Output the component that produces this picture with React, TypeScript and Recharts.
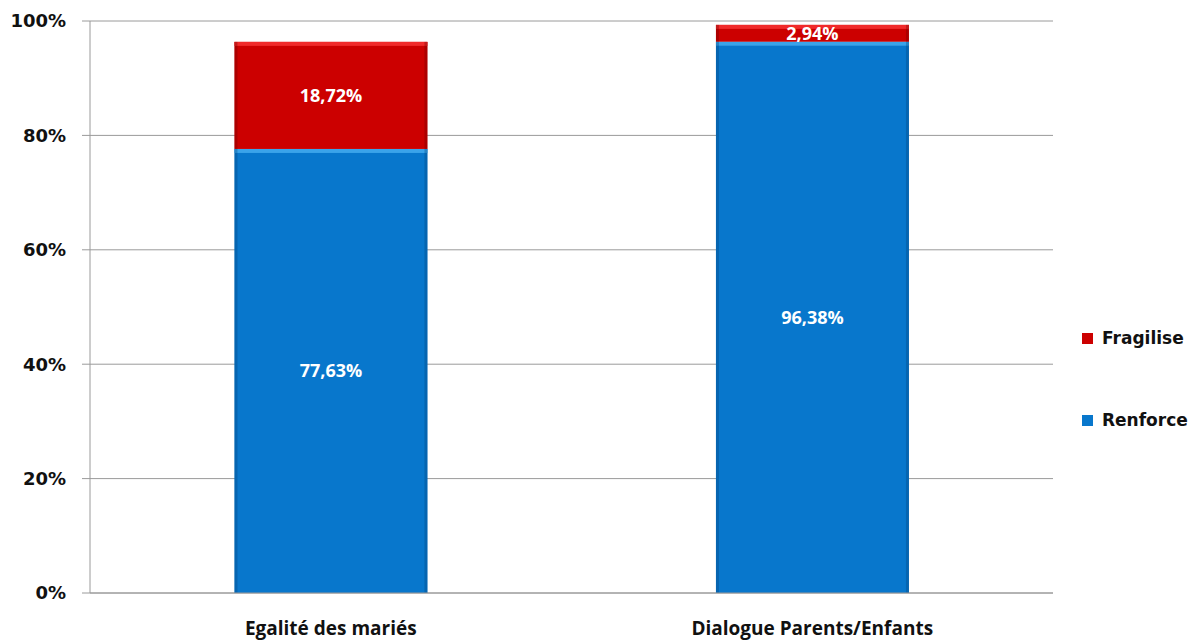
import { BarChart, Bar, XAxis, YAxis, CartesianGrid, Legend, LabelList } from 'recharts'

const categories = ['Egalité des mariés', 'Dialogue Parents/Enfants']
const renforce = [77.63, 96.38]
const fragilise = [18.72, 2.94]
const yTicks = [0, 20, 40, 60, 80, 100]

const data = categories.map((name, i) => ({ name, renforce: renforce[i], fragilise: fragilise[i] }))

const SANS = '"Open Sans", sans-serif'
const WIDE = '"DejaVu Sans", sans-serif'
const BLUE = '#0877cc'
const RED = '#cc0000'

const fmt = (v: any) => Number(v).toFixed(2).replace('.', ',') + '%'

function BevelBar(props: any) {
  const { x, y, width, height, fill, light, dark } = props
  if (!height || height <= 0) return null
  return (
    <g>
      <rect x={x} y={y} width={width} height={height} fill={fill} />
      <rect x={x} y={y} width={width} height={Math.min(4, height)} fill={light} />
      <rect x={x} y={y} width={3} height={height} fill={dark} opacity={0.35} />
      <rect x={x + width - 3} y={y} width={3} height={height} fill={dark} opacity={0.35} />
    </g>
  )
}

function LegendBox() {
  const items = [
    { label: 'Fragilise', color: RED },
    { label: 'Renforce', color: BLUE },
  ]
  return (
    <div style={{ fontFamily: WIDE, fontWeight: 700, fontSize: 17, color: '#111' }}>
      {items.map((it) => (
        <div key={it.label} style={{ display: 'flex', alignItems: 'center', height: 28, marginBottom: 54 }}>
          <span style={{ display: 'inline-block', width: 11, height: 11, background: it.color, marginRight: 9 }} />
          {it.label}
        </div>
      ))}
    </div>
  )
}

export default function App() {
  return (
    <div style={{ position: 'absolute', left: 0, top: 0, background: '#fff' }}>
      <BarChart
        width={1194}
        height={641}
        data={data}
        margin={{ top: 21, right: 29, bottom: 0, left: 0 }}
        barCategoryGap="30%"
      >
        <CartesianGrid vertical={false} stroke="#9a9a9a" strokeWidth={1} />
        <XAxis
          dataKey="name"
          height={48}
          axisLine={{ stroke: '#9a9a9a' }}
          tickLine={false}
          tick={{ fill: '#111', fontFamily: SANS, fontWeight: 700, fontSize: 19, dy: 21 }}
        />
        <YAxis
          width={90}
          domain={[0, 100]}
          ticks={yTicks}
          tickFormatter={(v) => v + '%'}
          axisLine={{ stroke: '#9a9a9a' }}
          tickLine={{ stroke: '#9a9a9a' }}
          tickSize={8}
          tick={{ fill: '#111', fontFamily: WIDE, fontWeight: 700, fontSize: 18, dx: -14 }}
        />
        <Legend
          layout="vertical"
          align="right"
          verticalAlign="top"
          content={<LegendBox />}
          wrapperStyle={{ position: 'absolute', left: 1082, top: 324, width: 112 }}
        />
        <Bar
          dataKey="renforce"
          stackId="a"
          fill={BLUE}
          isAnimationActive={false}
          shape={(p: any) => <BevelBar {...p} fill={BLUE} light="#3aa3ea" dark="#04457a" />}
        >
          <LabelList dataKey="renforce" position="center" formatter={fmt} fill="#fff" style={{ fontFamily: SANS, fontWeight: 700, fontSize: 18 }} />
        </Bar>
        <Bar
          dataKey="fragilise"
          stackId="a"
          fill={RED}
          isAnimationActive={false}
          shape={(p: any) => <BevelBar {...p} fill={RED} light="#f02a2a" dark="#700000" />}
        >
          <LabelList dataKey="fragilise" position="center" formatter={fmt} fill="#fff" style={{ fontFamily: SANS, fontWeight: 700, fontSize: 18 }} />
        </Bar>
      </BarChart>
    </div>
  )
}
